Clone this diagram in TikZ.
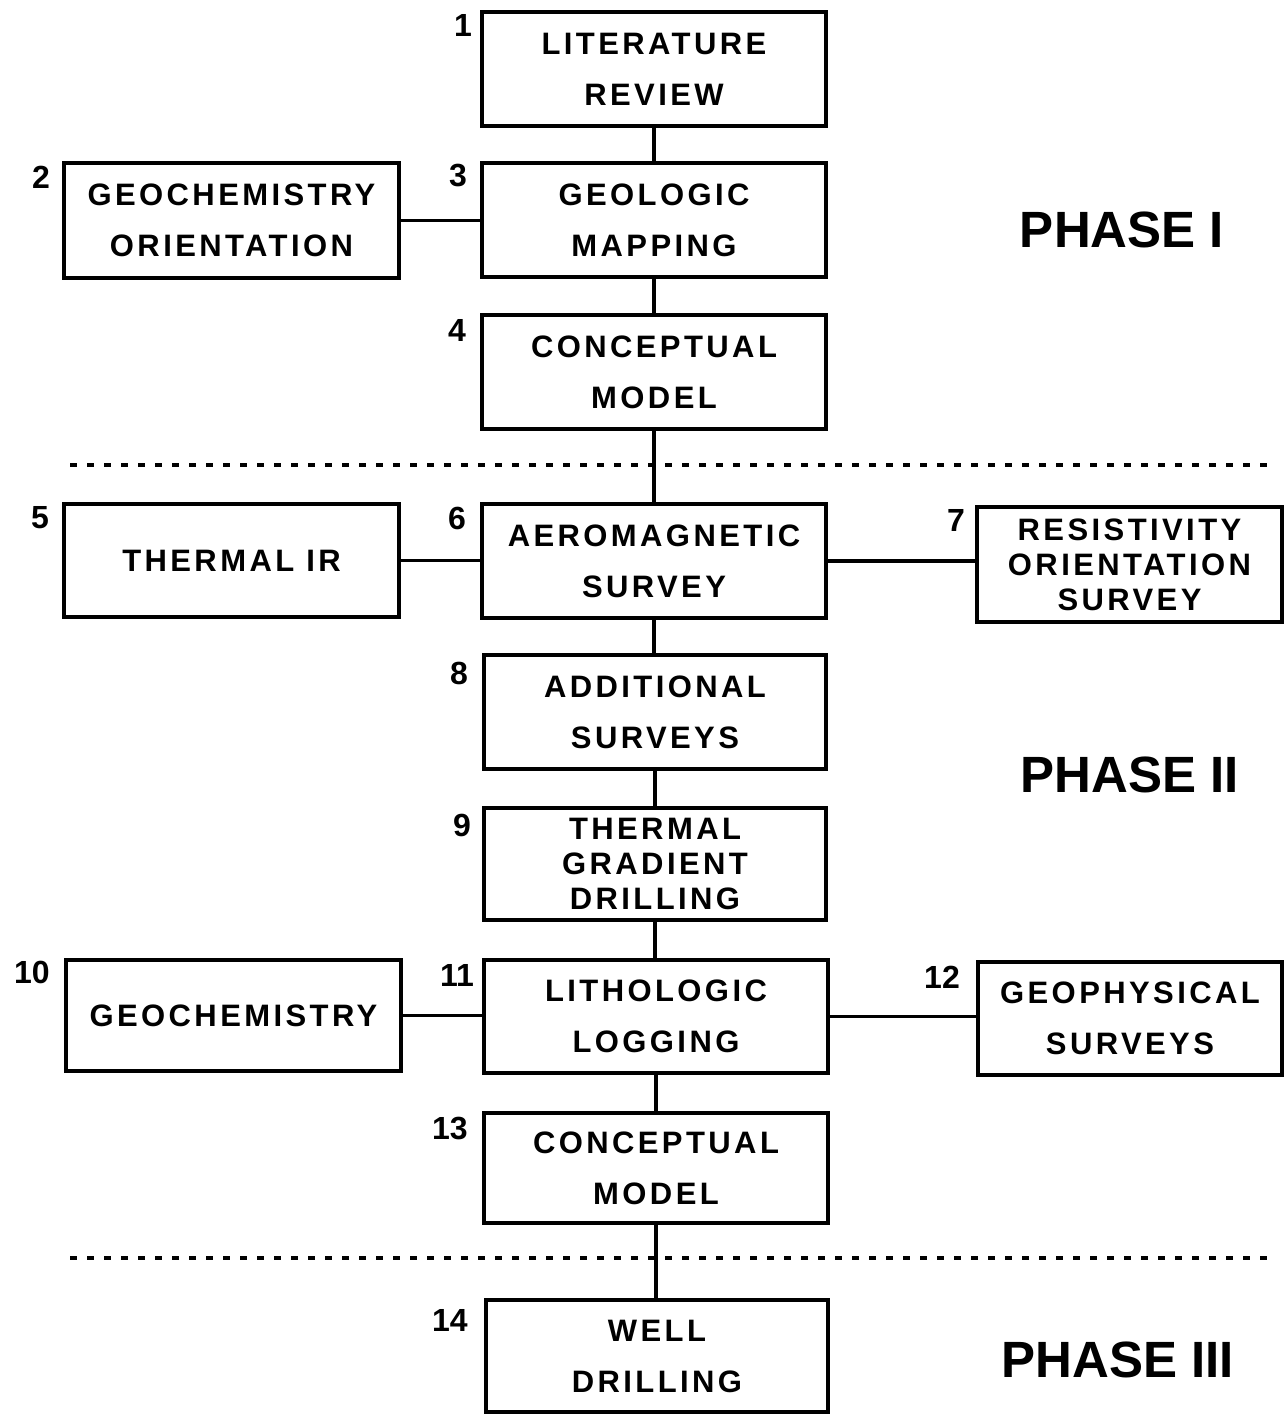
\documentclass[tikz,border=0pt]{standalone}
\usepackage{fontspec}
\setmainfont{Liberation Sans}
\newfontfamily\boxfont[LetterSpace=11]{Liberation Sans}
\begin{document}
\begin{tikzpicture}[x=1pt,y=-1pt,
  box/.style={draw,line width=3.2pt,rectangle,inner sep=0pt,align=center,
    font=\boxfont\bfseries\fontsize{31}{51}\selectfont},
  box3/.style={box,font=\boxfont\bfseries\fontsize{31}{35}\selectfont},
  num/.style={font=\bfseries\fontsize{32}{32}\selectfont,inner sep=0pt},
  phase/.style={font=\bfseries\fontsize{51}{51}\selectfont,inner sep=0pt},
  conn/.style={line width=3.2pt},
  dotline/.style={line width=3.5pt,dash pattern=on 7pt off 10pt}]
\useasboundingbox (0,0) rectangle (1285,1414);
% boxes
\node[box,minimum width=344pt,minimum height=114pt] (b1) at (654,69) {LITERATURE\\REVIEW};
\node[box,minimum width=335pt,minimum height=115pt] (b2) at (231.5,220.5) {GEOCHEMISTRY\\ORIENTATION};
\node[box,minimum width=344pt,minimum height=114pt] (b3) at (654,220) {GEOLOGIC\\MAPPING};
\node[box,minimum width=344pt,minimum height=114pt] (b4) at (654,372) {CONCEPTUAL\\MODEL};
\node[box,minimum width=335pt,minimum height=113pt] (b5) at (231.5,560.5) {THERMAL IR};
\node[box,minimum width=344pt,minimum height=114pt] (b6) at (654,561) {AEROMAGNETIC\\SURVEY};
\node[box3,minimum width=305pt,minimum height=115pt] (b7) at (1129.5,564.5) {RESISTIVITY\\ORIENTATION\\SURVEY};
\node[box,minimum width=342pt,minimum height=114pt] (b8) at (655,712) {ADDITIONAL\\SURVEYS};
\node[box3,minimum width=342pt,minimum height=112pt] (b9) at (655,864) {THERMAL\\GRADIENT\\DRILLING};
\node[box,minimum width=335pt,minimum height=111pt] (b10) at (233.5,1015.5) {GEOCHEMISTRY};
\node[box,minimum width=344pt,minimum height=113pt] (b11) at (656,1016.5) {LITHOLOGIC\\LOGGING};
\node[box,minimum width=304pt,minimum height=113pt] (b12) at (1130,1018.5) {GEOPHYSICAL\\SURVEYS};
\node[box,minimum width=344pt,minimum height=110pt] (b13) at (656,1168) {CONCEPTUAL\\MODEL};
\node[box,minimum width=342pt,minimum height=112pt] (b14) at (657,1356) {WELL\\DRILLING};
% numbers
\node[num] (n1) at (463,25) {1};
\node[num] (n2) at (41,177) {2};
\node[num] (n3) at (458,176) {3};
\node[num] (n4) at (457,330) {4};
\node[num] (n5) at (40,518) {5};
\node[num] (n6) at (457,518) {6};
\node[num] (n7) at (956,520) {7};
\node[num] (n8) at (459,673) {8};
\node[num] (n9) at (462,825) {9};
\node[num] (n10) at (32,972) {10};
\node[num] (n11) at (457,975) {11};
\node[num] (n12) at (942,977) {12};
\node[num] (n13) at (450,1128) {13};
\node[num] (n14) at (450,1320) {14};
% phases
\node[phase] (p1) at (1122,230) {PHASE I};
\node[phase] (p2) at (1130,775) {PHASE II};
\node[phase] (p3) at (1118,1360) {PHASE III};
% dotted separators
\coordinate (d1l) at (70,465); \coordinate (d1r) at (1272,465);
\coordinate (d2l) at (70,1258); \coordinate (d2r) at (1272,1258);
\draw[dotline] (d1l) -- (d1r);
\draw[dotline] (d2l) -- (d2r);
% connectors
\draw[conn] (b1.south) -- (b1.south |- b3.north);
\draw[conn] (b3.south) -- (b3.south |- b4.north);
\draw[conn] (b4.south) -- (b4.south |- b6.north);
\draw[conn] (b6.south) -- (b6.south |- b8.north);
\draw[conn] (b8.south) -- (b8.south |- b9.north);
\draw[conn] (b9.south) -- (b9.south |- b11.north);
\draw[conn] (b11.south) -- (b11.south |- b13.north);
\draw[conn] (b13.south) -- (b13.south |- b14.north);
\draw[conn] (b2.east) -- (b3.west |- b2.east);
\draw[conn] (b5.east) -- (b6.west |- b5.east);
\draw[conn] (b6.east) -- (b7.west |- b6.east);
\draw[conn] (b10.east) -- (b11.west |- b10.east);
\draw[conn] (b11.east) -- (b12.west |- b11.east);
\end{tikzpicture}
\end{document}
